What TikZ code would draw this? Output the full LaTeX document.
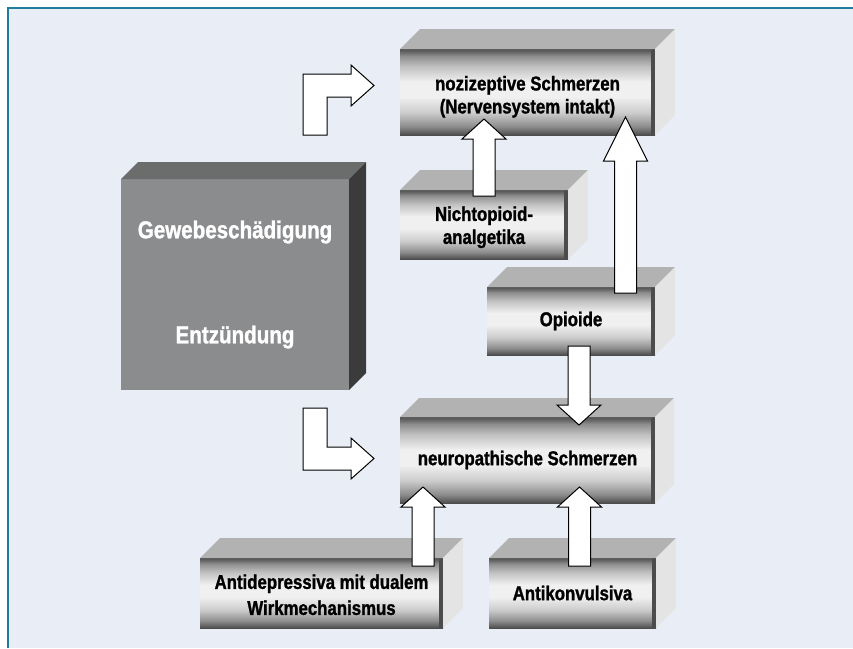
\documentclass[tikz,border=0pt]{standalone}
\usepackage{fontspec}
\setmainfont{Liberation Sans}
\newfontfamily\condfont[FakeStretch=0.84,FakeBold=1.2]{Liberation Sans}
\usetikzlibrary{calc}

\definecolor{bgblue}{HTML}{E9EEF6}
\definecolor{frameteal}{HTML}{1F7C9C}
\definecolor{topgrey}{HTML}{B2B2B2}
\definecolor{sidegrey}{HTML}{E4E4E4}
\definecolor{stripgrey}{HTML}{4C4C4C}
\definecolor{bigfront}{HTML}{8B8C8E}
\definecolor{bigtop}{HTML}{6B6C6C}
\definecolor{bigside}{HTML}{3B3B3B}

\pgfdeclareverticalshading{metal}{100bp}{%
  color(0bp)=(black!70); color(25bp)=(black!70); color(27bp)=(black!60);
  color(30bp)=(black!45); color(38bp)=(black!20); color(47bp)=(black!6);
  color(56bp)=(black!6); color(65bp)=(black!25); color(71bp)=(black!45);
  color(73bp)=(black!58); color(75bp)=(black!68); color(100bp)=(black!68)}

\tikzset{
  metalbox/.style={shading=metal, inner sep=0pt, outer sep=0pt, align=center,
    font=\condfont\fontsize{20}{23}\selectfont\bfseries,
    path picture={\fill[stripgrey] ([xshift=-4pt]path picture bounding box.north east)
      rectangle (path picture bounding box.south east);}},
  bigbox/.style={fill=bigfront, text=white, inner sep=0pt, outer sep=0pt, align=center,
    font=\condfont\fontsize{24.5}{27}\selectfont\bfseries},
  blockarr/.style={fill=white, draw=black, line width=1pt, line join=miter}
}

% front face is the node, top and side faces drawn from its anchors
\newcommand{\metalsides}[4]{%
  \fill[#3] (#1.north west) -- ++(#2,-#2) -- ($(#1.north east)+(#2,-#2)$) -- (#1.north east) -- cycle;
  \fill[#4] (#1.north east) -- ++(#2,-#2) -- ($(#1.south east)+(#2,-#2)$) -- (#1.south east) -- cycle;}

% straight block arrow, optional head length
\newcommand{\blockup}[3][20]{%
  \draw[blockarr] let \p1=#2, \p2=#3, \n1={(\y2-\y1)/abs(\y2-\y1)} in
    (\x1-11pt,\y1) -- (\x1-11pt,{\y2-\n1*#1pt}) -- (\x1-22pt,{\y2-\n1*#1pt}) -- (\x1,\y2)
    -- (\x1+22pt,{\y2-\n1*#1pt}) -- (\x1+11pt,{\y2-\n1*#1pt}) -- (\x1+11pt,\y1) -- cycle;}

% bent block arrow: vertical first, then to the right
\newcommand{\blockbent}[2]{%
  \draw[blockarr] let \p1=#1, \p2=#2, \n1={(\y2-\y1)/abs(\y2-\y1)} in
    (\x1-12pt,\y1) -- (\x1-12pt,{\y2+\n1*11.5pt}) -- (\x2-23pt,{\y2+\n1*11.5pt})
    -- (\x2-23pt,{\y2+\n1*20.5pt}) -- (\x2,\y2) -- (\x2-23pt,{\y2-\n1*20.5pt})
    -- (\x2-23pt,{\y2-\n1*11.5pt}) -- (\x1+12pt,{\y2-\n1*11.5pt}) -- (\x1+12pt,\y1) -- cycle;}

\begin{document}
\begin{tikzpicture}[x=1pt,y=-1pt]
  \useasboundingbox (0,0) rectangle (853,648);
  % background and frame
  \fill[white] (0,0) rectangle (853,648);
  \fill[bgblue] (8,8) rectangle (853,648);
  \draw[frameteal, line width=1.5pt] (8,648) -- (8,8) -- (853,8);

  % cause
  \node[bigbox, minimum width=228pt, minimum height=211pt] (gew) at (235,284.5)
    {Gewebesch\"adigung\\[78pt]Entz\"undung};
  \metalsides{gew}{17}{bigtop}{bigside}

  % pain types
  \node[metalbox, minimum width=255pt, minimum height=86pt] (noz) at (527.5,92)
    {\rule{0pt}{24pt}nozizeptive Schmerzen\\(Nervensystem intakt)};
  \metalsides{noz}{20}{topgrey}{sidegrey}
  \node[metalbox, minimum width=255pt, minimum height=86pt] (neuro) at (527.5,460)
    {neuropathische Schmerzen};
  \metalsides{neuro}{19}{topgrey}{sidegrey}

  % drugs
  \node[metalbox, minimum width=168pt, minimum height=69pt] (nicht) at (484,224.5)
    {\rule{0pt}{20pt}Nichtopioid-\\analgetika};
  \metalsides{nicht}{20}{topgrey}{sidegrey}
  \node[metalbox, minimum width=168pt, minimum height=68pt] (opio) at (571,321)
    {Opioide};
  \metalsides{opio}{20}{topgrey}{sidegrey}
  \node[metalbox, minimum width=243pt, minimum height=70pt] (antid) at (321.5,593)
    {\rule{0pt}{18pt}Antidepressiva mit dualem\\[3pt]Wirkmechanismus};
  \metalsides{antid}{20}{topgrey}{sidegrey}
  \node[metalbox, minimum width=167pt, minimum height=70pt] (antik) at (572.5,593)
    {Antikonvulsiva};
  \metalsides{antik}{20}{topgrey}{sidegrey}

  % arrows
  \blockbent{($(gew.north east)+(-34,-44)$)}{($(noz.west)+(-26,-6.5)$)}
  \blockbent{($(gew.south east)+(-34,18)$)}{($(neuro.west)+(-26,-1.5)$)}
  \blockup{($(nicht.north)+(0,6)$)}{($(nicht.north |- noz.south)+(0,-16)$)}
  \blockup[44]{($(opio.north east)+(-29.5,6)$)}{($(opio.north east |- noz.south)+(-29.5,-18)$)}
  \blockup{($(opio.south)+(8,-9)$)}{($(opio.south |- neuro.north)+(8,8)$)}
  \blockup{($(antid.north east)+(-20,8)$)}{($(antid.north east |- neuro.south)+(-20,-16)$)}
  \blockup{($(antik.north)+(7,8)$)}{($(antik.north |- neuro.south)+(7,-16)$)}
\end{tikzpicture}
\end{document}
